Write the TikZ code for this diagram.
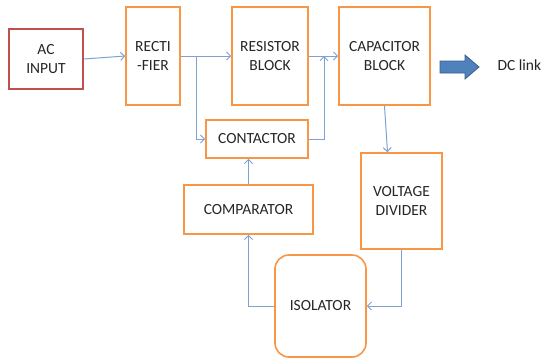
\documentclass[tikz,border=0pt]{standalone}
\usepackage{fontspec}
\setmainfont{Carlito}
\usetikzlibrary{arrows.meta}
\definecolor{boxorange}{HTML}{F79646}
\definecolor{boxred}{HTML}{C0504D}
\definecolor{linkblue}{HTML}{7EA1D3}
\definecolor{fatblue}{HTML}{4F81BD}
\definecolor{fatedge}{HTML}{385D8A}
\tikzset{
  blk/.style={draw=boxorange,line width=1.6pt,align=center,inner sep=0pt,font=\fontsize{15.5}{19}\selectfont,text=black!85},
  arr/.style={draw=linkblue,line width=1pt,-{Straight Barb[length=4pt,width=8pt]}},
}
\begin{document}
\begin{tikzpicture}[x=1pt,y=-1pt]
  \useasboundingbox (0,0) rectangle (542,360);
  \node[blk,draw=boxred,minimum width=74,minimum height=60] (ac) at (46,59) {AC\\INPUT};
  \node[blk,minimum width=54,minimum height=98] (rect) at (153,56) {RECTI\\-FIER};
  \node[blk,minimum width=76,minimum height=98] (res) at (270,56) {RESISTOR\\BLOCK};
  \node[blk,minimum width=91,minimum height=98] (cap) at (384.5,56) {CAPACITOR\\BLOCK};
  \node[blk,minimum width=102,minimum height=38] (cont) at (257,139) {CONTACTOR};
  \node[blk,minimum width=129,minimum height=49] (comp) at (248.5,209.5) {COMPARATOR};
  \node[blk,minimum width=81,minimum height=96] (vdiv) at (401.5,201) {VOLTAGE\\DIVIDER};
  \node[blk,rounded corners=14pt,minimum width=91,minimum height=102] (iso) at (320.5,306) {ISOLATOR};
  \node[font=\fontsize{15.5}{19}\selectfont,text=black!85,anchor=west] (dc) at (494,65) {DC link};
  % fat output arrow
  \draw[fatedge,fill=fatblue,line width=0.8pt] (440,61) -- (465,61) -- (465,55) -- (479,67)
    -- (465,79) -- (465,73) -- (440,73) -- cycle;
  % connectors
  \coordinate (br) at (196,56);
  \coordinate (jn) at (324,56);
  \draw[arr] (ac.east) -- (rect.west);
  \draw[arr] (rect.east) -- (res.west);
  \draw[arr] (br) |- (cont.west);
  \draw[arr] (res.east) -- (cap.west);
  \draw[arr] (cont.east) -| (jn);
  \draw[arr] (cap.south) -- ([xshift=-14pt]vdiv.north);
  \draw[arr] (vdiv.south) |- (iso.east);
  \draw[arr] (iso.west) -| (comp.south);
  \draw[arr] (comp.north) -- (comp.north |- cont.south);
\end{tikzpicture}
\end{document}
